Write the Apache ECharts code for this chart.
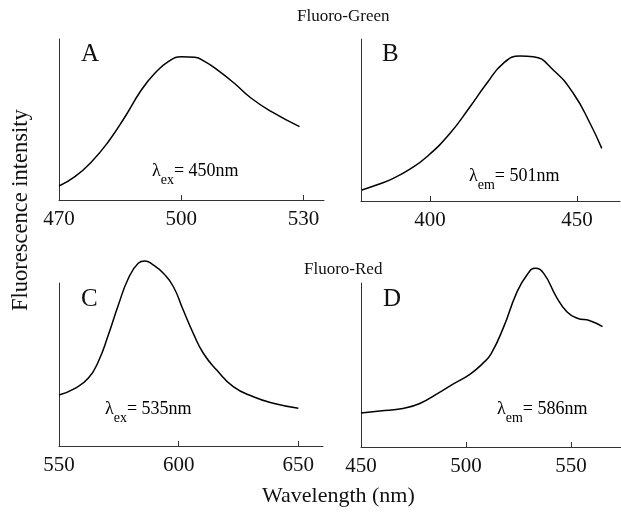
<!DOCTYPE html>
<html>
<head>
<meta charset="utf-8">
<title>Fluoro spectra</title>
<script src="https://cdn.jsdelivr.net/npm/echarts@6/dist/echarts.min.js"></script>
<style>
  html, body { margin: 0; padding: 0; background: #fff; }
  #main { width: 621px; height: 513px; }
</style>
</head>
<body>
<div id="main"></div>
<script type="text/javascript">
// panel A: Fluoro-Green excitation (em 501nm)
var xA = [470, 473.9, 478, 482.1, 486.2, 490.2, 493.5, 496.8, 500, 503.3, 505.8, 509, 513, 517, 522, 529];
var yA = [8.7, 14.5, 23.8, 36.2, 51.7, 68.3, 78.7, 85.9, 89, 88.6, 85.9, 80.5, 72.5, 63.5, 55, 45.6];
// panel B: Fluoro-Green emission (ex 450nm)
var xB = [376.8, 382, 387.5, 393, 398.9, 406.8, 413.6, 419.3, 424.9, 430.6, 435.1, 441.9, 448.7, 454.4, 458.4];
var yB = [6.8, 10, 14, 19.5, 27.3, 41.8, 58.2, 72.7, 85, 89.5, 89.1, 80.9, 66.5, 48, 32.5];
// panel C: Fluoro-Red excitation
var xC = [550, 556.7, 562.2, 566.4, 570.6, 574.8, 579, 583.1, 585.9, 589, 593.6, 597.8, 601.9, 606.1, 610.3, 615.9, 622.8, 631.2, 639.5, 650];
var yC = [31.3, 35.4, 41.5, 51.7, 68.1, 86.5, 102.9, 112.1, 113.5, 111.5, 106, 97.7, 83.4, 69.1, 56.9, 46.6, 36.4, 30.2, 26.2, 23.1];
// panel D: Fluoro-Red emission
var xD = [450, 459, 470, 478, 487, 494, 502, 508, 512, 518, 524, 529, 533, 537, 543, 548, 553, 559, 565];
var yD = [20.8, 22, 23.5, 26.5, 33, 38.5, 44.5, 51, 57, 73.4, 93.7, 104.9, 109, 105.9, 91.6, 82.5, 78.5, 77, 73.4];

var ticksA = [470, 500, 530];
var ticksB = [400, 450];
var ticksC = [550, 600, 650];
var ticksD = [450, 500, 550];

var rangeA = [470, 535];
var rangeB = [376.5, 464.6];
var rangeC = [550, 660.3];
var rangeD = [450, 573.8];

function zip(xs, ys) {
    var out = [];
    for (var i = 0; i < xs.length; i++) out.push([xs[i], ys[i]]);
    return out;
}

var serif = 'Liberation Serif, DejaVu Serif, serif';
var axisColor = '#333';

function makeX(idx, range, ticks) {
    return {
        type: 'value', gridIndex: idx, min: range[0], max: range[1],
        axisLine: { show: true, lineStyle: { color: axisColor, width: 1 } },
        axisTick: { show: true, inside: true, length: 5, customValues: ticks, lineStyle: { color: axisColor } },
        axisLabel: { show: true, customValues: ticks, color: '#111', fontFamily: serif, fontSize: 21, margin: 9 },
        splitLine: { show: false }
    };
}
function makeY(idx) {
    return {
        type: 'value', gridIndex: idx, min: 0, max: 100,
        axisLine: { show: true, lineStyle: { color: axisColor, width: 1 } },
        axisTick: { show: false }, axisLabel: { show: false }, splitLine: { show: false }
    };
}
function makeLine(idx, xs, ys) {
    return {
        type: 'line', xAxisIndex: idx, yAxisIndex: idx, data: zip(xs, ys),
        smooth: 0.5, showSymbol: false, clip: false,
        lineStyle: { color: '#000', width: 1.5 }
    };
}

var richLam = {
    l: { fontFamily: serif, fontSize: 18, color: '#111', lineHeight: 24, verticalAlign: 'middle' },
    s: { fontFamily: serif, fontSize: 14, color: '#111', lineHeight: 24, verticalAlign: 'bottom', padding: [0, 0, -4, 0] },
    n: { fontFamily: serif, fontSize: 18, color: '#111', lineHeight: 24, verticalAlign: 'middle' }
};
function lamText(x, y, sub, rest) {
    return { type: 'text', left: x, top: y,
        style: { text: '{l|λ}{s|' + sub + '}{n|' + rest + '}', rich: richLam } };
}
function plainText(x, y, txt, size) {
    return { type: 'text', left: x, top: y,
        style: { text: txt, fontFamily: serif, fontSize: size, fill: '#111' } };
}

var chart = echarts.init(document.getElementById('main'));
chart.setOption({
    backgroundColor: '#fff',
    animation: false,
    grid: [
        { left: 59, top: 39, width: 265, height: 161 },
        { left: 361, top: 39, width: 259, height: 162 },
        { left: 59, top: 283, width: 264, height: 163 },
        { left: 361, top: 283, width: 260, height: 164 }
    ],
    xAxis: [makeX(0, rangeA, ticksA), makeX(1, rangeB, ticksB), makeX(2, rangeC, ticksC), makeX(3, rangeD, ticksD)],
    yAxis: [makeY(0), makeY(1), makeY(2), makeY(3)],
    series: [makeLine(0, xA, yA), makeLine(1, xB, yB), makeLine(2, xC, yC), makeLine(3, xD, yD)],
    graphic: [
        plainText(297, 8, 'Fluoro-Green', 17),
        plainText(304, 261, 'Fluoro-Red', 17),
        plainText(262, 485, 'Wavelength (nm)', 22),
        { type: 'text', x: 10, y: 311, rotation: Math.PI / 2,
          style: { text: 'Fluorescence intensity', fontFamily: serif, fontSize: 22.5, fill: '#111' } },
        plainText(81, 42, 'A', 25),
        plainText(382, 42, 'B', 25),
        plainText(81, 287, 'C', 25),
        plainText(383, 287, 'D', 25),
        lamText(152, 162, 'ex', '= 450nm'),
        lamText(469, 167, 'em', '= 501nm'),
        lamText(105, 400, 'ex', '= 535nm'),
        lamText(497, 400, 'em', '= 586nm')
    ]
});
</script>
</body>
</html>
